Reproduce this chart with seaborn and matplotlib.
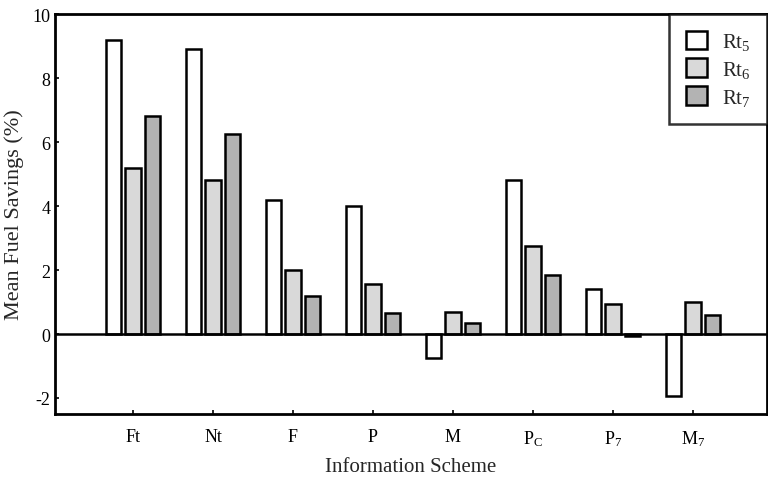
import matplotlib
matplotlib.use("Agg")
import matplotlib.pyplot as plt
import seaborn as sns
import pandas as pd

schemes = ["Ft", "Nt", "F", "P", "M", r"P$_\mathrm{C}$", r"P$_7$", r"M$_7$"]
rt5 = [9.2, 8.9, 4.2, 4.0, -0.75, 4.8, 1.4, -1.95]
rt6 = [5.2, 4.8, 2.0, 1.55, 0.7, 2.75, 0.95, 1.0]
rt7 = [6.8, 6.25, 1.2, 0.65, 0.35, 1.85, -0.05, 0.6]
series = [r"Rt$_5$", r"Rt$_6$", r"Rt$_7$"]

rows = []
for s, vals in zip(series, [rt5, rt6, rt7]):
    for c, v in zip(schemes, vals):
        rows.append({"scheme": c, "series": s, "value": v})
df = pd.DataFrame(rows)

sns.set_style("white")
plt.rcParams["font.family"] = ["Liberation Serif", "DejaVu Serif"]
plt.rcParams["mathtext.fontset"] = "custom"
plt.rcParams["mathtext.rm"] = "Liberation Serif"
plt.rcParams["mathtext.it"] = "Liberation Serif:italic"

fig = plt.figure(figsize=(7.68, 4.85), dpi=100)
ax = fig.add_axes([55/768, 70/485, 712/768, 400/485])

palette = {series[0]: "#ffffff", series[1]: "#d9d9d9", series[2]: "#b3b3b3"}
sns.barplot(data=df, x="scheme", y="value", hue="series", order=schemes,
            hue_order=series, palette=palette, width=0.73, gap=0.2,
            edgecolor="black", linewidth=1.8, ax=ax, saturation=1)

ax.axhline(0, color="black", lw=1.8, zorder=5)
ax.set_ylim(-2.5, 10)
ax.set_xlim(-0.975, 7.925)
ax.set_yticks([-2, 0, 2, 4, 6, 8, 10])
ax.set_yticklabels(["-2", "0", "2", "4", "6", "8", "10"])
ax.tick_params(axis="both", direction="in", length=3, width=1.2, labelsize=13,
               colors="black", bottom=True, left=True)
ax.tick_params(axis="x", pad=10)
ax.set_xlabel("Information Scheme", fontsize=15, labelpad=7)
ax.set_ylabel("Mean Fuel Savings (%)", fontsize=16, labelpad=6)
for sp in ax.spines.values():
    sp.set_linewidth(2)
    sp.set_color("black")

leg = ax.legend(loc="upper right", fontsize=15, frameon=True, fancybox=False,
                edgecolor="black", borderpad=0.8, handlelength=1.0,
                handleheight=1.0, labelspacing=0.3, handletextpad=0.7,
                borderaxespad=0.0)
leg.get_frame().set_linewidth(1.8)

fig.savefig("out.png", dpi=100)
